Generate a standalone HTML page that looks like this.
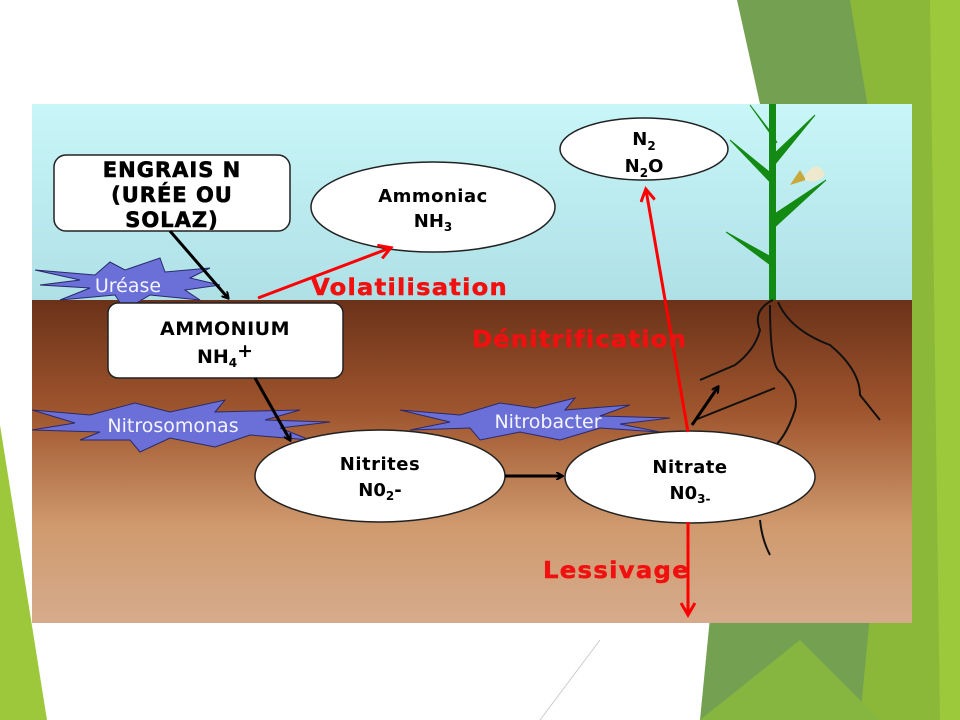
<!DOCTYPE html>
<html><head><meta charset="utf-8"><style>
html,body{margin:0;padding:0;background:#fff;width:960px;height:720px;overflow:hidden}
svg text{font-family:"DejaVu Sans","Liberation Sans",sans-serif}
</style></head><body>
<svg width="960" height="720" viewBox="0 0 960 720" xmlns="http://www.w3.org/2000/svg">
<defs>
<linearGradient id="sky" x1="0" y1="0" x2="0" y2="1"><stop offset="0" stop-color="#c9f6f8"/><stop offset="1" stop-color="#aee0e6"/></linearGradient>
<linearGradient id="soil" x1="0" y1="0" x2="0" y2="1"><stop offset="0" stop-color="#6b3219"/><stop offset="0.35" stop-color="#a0562e"/><stop offset="0.7" stop-color="#cf9a6e"/><stop offset="1" stop-color="#d6ab8c"/></linearGradient>
<marker id="ab" markerWidth="8" markerHeight="8" refX="6" refY="4" orient="auto" markerUnits="userSpaceOnUse"><path d="M0,0 L7,4 L0,8" fill="none" stroke="#000" stroke-width="2"/></marker>
<marker id="ar" markerWidth="16" markerHeight="16" refX="12" refY="8" orient="auto" markerUnits="userSpaceOnUse"><path d="M1,1 L13,8 L1,15" fill="none" stroke="#f00" stroke-width="3"/></marker>
</defs>
<polygon points="737,0 960,0 960,720 700,720 760,104" fill="#74a052"/>
<polygon points="850,0 960,0 960,720 860,720 900,300" fill="#8cb83a"/>
<polygon points="930,0 960,0 960,720 940,720" fill="#9cc83c"/>
<polygon points="700,720 800,640 880,720" fill="#86b540"/>
<polygon points="0,425 47,720 0,720" fill="#9dc83c"/>
<line x1="600" y1="640" x2="540" y2="720" stroke="#ccc" stroke-width="1"/>
<rect x="32" y="104" width="880" height="196" fill="url(#sky)"/>
<rect x="32" y="300" width="880" height="323" fill="url(#soil)"/>
<g stroke="#138a13" fill="#138a13">
<rect x="769" y="104" width="7" height="196" stroke="none"/>
<path d="M773,155 L815,115 L776,163Z"/>
<path d="M773,175 L730,140 L772,184Z"/>
<path d="M773,215 L826,180 L776,226Z"/>
<path d="M773,258 L726,232 L772,266Z"/>
<path d="M773,135 L750,105 L777,143Z"/>
</g>
<path d="M790,185 L800,170 L806,180 Z" fill="#c8a838"/>
<path d="M805,175 Q818,158 825,175 Q815,185 805,180Z" fill="#eee8cc"/>
<g fill="none" stroke="#111" stroke-width="2">
<path d="M773,300 Q752,310 760,330 Q755,350 735,365 L700,380"/>
<path d="M770,305 Q770,360 778,370 Q800,390 795,410 Q785,440 770,450"/>
<path d="M778,302 Q790,330 830,345 Q860,370 860,395 L880,420"/>
<path d="M695,420 L775,388"/>
<path d="M760,520 Q762,540 770,555"/>
</g>
<g fill="#6b6fd8" stroke="#2a2a6a" stroke-width="1">
<polygon points="35,270 95,275 110,262 125,270 160,258 165,272 210,268 190,278 220,285 185,290 200,300 150,295 125,310 115,295 60,300 90,288 40,285 80,280"/>
<polygon points="32,410 90,415 135,403 170,412 225,400 215,412 300,410 265,420 330,422 280,428 310,440 250,435 215,447 170,438 140,452 130,440 80,440 100,432 32,430 75,423"/>
<polygon points="400,410 460,415 500,403 535,408 575,398 565,410 630,405 600,416 670,418 620,424 660,432 600,428 560,440 520,432 480,440 470,428 410,430 450,422"/>
</g>
<g font-size="19" fill="#f4f4ff">
<text x="128" y="292" text-anchor="middle">Uréase</text>
<text x="173" y="432" text-anchor="middle">Nitrosomonas</text>
<text x="548" y="428" text-anchor="middle">Nitrobacter</text>
</g>
<g fill="#fff" stroke="#222" stroke-width="1.5">
<rect x="54" y="155" width="236" height="76" rx="12"/>
<rect x="108" y="303" width="235" height="75" rx="10"/>
<ellipse cx="433" cy="207" rx="122" ry="45"/>
<ellipse cx="644" cy="149" rx="84" ry="31"/>
<ellipse cx="380" cy="476" rx="125" ry="46"/>
<ellipse cx="690" cy="477" rx="125" ry="46"/>
</g>
<g font-weight="bold" fill="#000" text-anchor="middle">
<g font-size="21" letter-spacing="1" stroke="#000" stroke-width="0.6">
<text x="172" y="177">ENGRAIS N</text>
<text x="172" y="202">(URÉE OU</text>
<text x="172" y="227">SOLAZ)</text>
</g>
<text x="225" y="335" font-size="19" letter-spacing="0.5">AMMONIUM</text>
<text x="225" y="363" font-size="19">NH<tspan font-size="12" dy="4">4</tspan><tspan dy="-10">+</tspan></text>
<text x="433" y="202" font-size="18" letter-spacing="0.5">Ammoniac</text>
<text x="433" y="227" font-size="18">NH<tspan font-size="12" dy="4">3</tspan></text>
<text x="644" y="145" font-size="18">N<tspan font-size="12" dy="5">2</tspan></text>
<text x="644" y="172" font-size="18">N<tspan font-size="12" dy="5">2</tspan><tspan dy="-5">O</tspan></text>
<text x="380" y="470" font-size="18" letter-spacing="0.5">Nitrites</text>
<text x="380" y="496" font-size="18">N0<tspan font-size="12" dy="4">2</tspan><tspan dy="-4">-</tspan></text>
<text x="690" y="473" font-size="18" letter-spacing="0.5">Nitrate</text>
<text x="690" y="499" font-size="18">N0<tspan font-size="12" dy="4">3-</tspan></text>
</g>
<g stroke-width="3" fill="none">
<line x1="170" y1="231" x2="228" y2="298" stroke="#000" marker-end="url(#ab)"/>
<line x1="255" y1="378" x2="290" y2="440" stroke="#000" marker-end="url(#ab)"/>
<line x1="505" y1="476" x2="562" y2="476" stroke="#000" marker-end="url(#ab)"/>
<line x1="692" y1="425" x2="718" y2="387" stroke="#000" marker-end="url(#ab)"/>
<line x1="258" y1="298" x2="390" y2="248" stroke="#f00" marker-end="url(#ar)"/>
<line x1="688" y1="432" x2="646" y2="190" stroke="#f00" marker-end="url(#ar)"/>
<line x1="688" y1="522" x2="688" y2="614" stroke="#f00" marker-end="url(#ar)"/>
</g>
<g font-weight="bold" fill="#f01010" font-size="23" letter-spacing="1.2" stroke="#f01010" stroke-width="0.5">
<text x="311" y="295" textLength="197" lengthAdjust="spacingAndGlyphs">Volatilisation</text>
<text x="472" y="347" textLength="215" lengthAdjust="spacingAndGlyphs">Dénitrification</text>
<text x="543" y="578" textLength="147" lengthAdjust="spacingAndGlyphs">Lessivage</text>
</g>
</svg>
</body></html>
